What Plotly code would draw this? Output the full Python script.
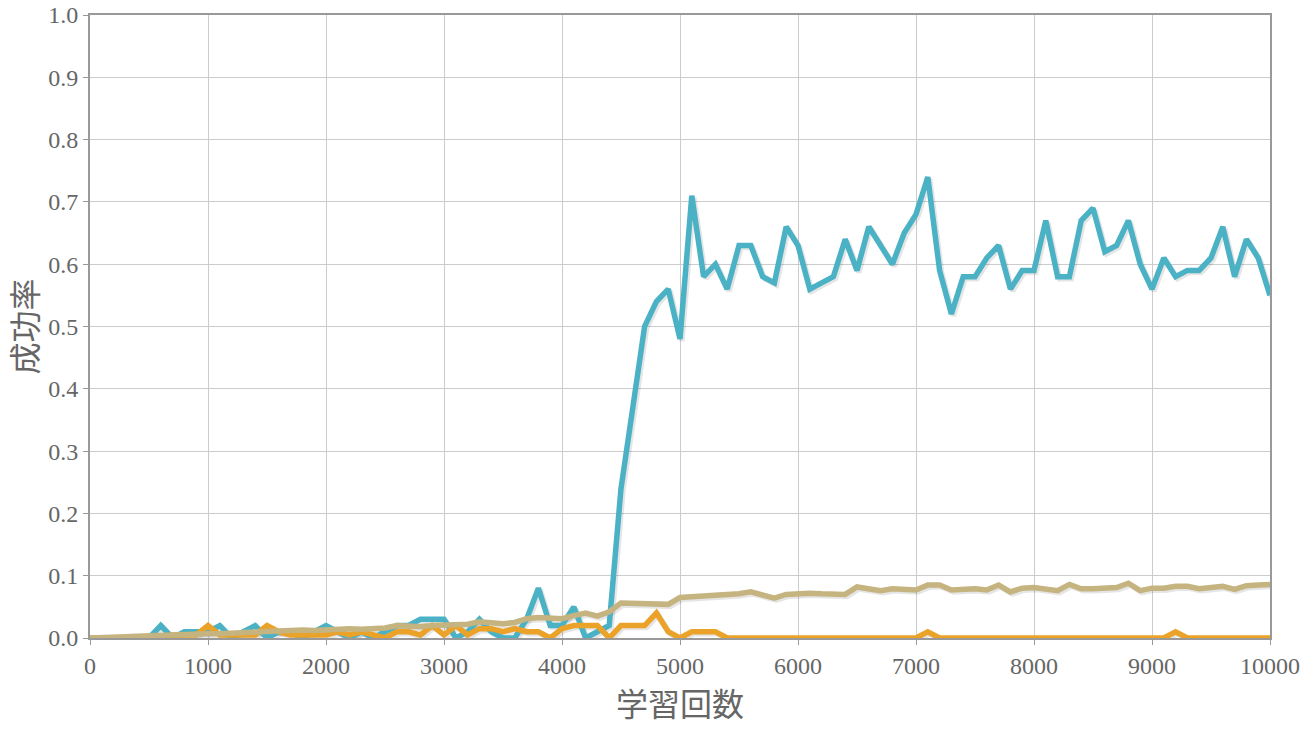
import plotly.graph_objects as go

steps = list(range(0, 10001, 100))

teal = [0, 0, 0, 0, 0, 0, 0.02, 0, 0.01, 0.01,
        0.01, 0.02, 0, 0.01, 0.02, 0, 0.01, 0.01, 0, 0.01,
        0.02, 0.01, 0, 0.01, 0, 0.01, 0.02, 0.02, 0.03, 0.03,
        0.03, 0, 0.01, 0.03, 0.01, 0, 0, 0.03, 0.08, 0.02,
        0.02, 0.05, 0, 0.01, 0.02, 0.24, 0.37, 0.50, 0.54, 0.56,
        0.48, 0.71, 0.58, 0.60, 0.56, 0.63, 0.63, 0.58, 0.57, 0.66,
        0.63, 0.56, 0.57, 0.58, 0.64, 0.59, 0.66, 0.63, 0.60, 0.65,
        0.68, 0.74, 0.59, 0.52, 0.58, 0.58, 0.61, 0.63, 0.56, 0.59,
        0.59, 0.67, 0.58, 0.58, 0.67, 0.69, 0.62, 0.63, 0.67, 0.60,
        0.56, 0.61, 0.58, 0.59, 0.59, 0.61, 0.66, 0.58, 0.64, 0.61,
        0.55]

orange = [0, 0, 0, 0, 0, 0, 0, 0.005, 0.005, 0.005,
          0.02, 0.005, 0.005, 0.005, 0.005, 0.02, 0.01, 0.005, 0.005, 0.005,
          0.005, 0.01, 0.005, 0.01, 0.005, 0, 0.01, 0.01, 0.005, 0.02,
          0.005, 0.02, 0.005, 0.015, 0.015, 0.01, 0.015, 0.01, 0.01, 0,
          0.015, 0.02, 0.02, 0.02, 0, 0.02, 0.02, 0.02, 0.04, 0.01,
          0, 0.01, 0.01, 0.01, 0, 0, 0, 0, 0, 0,
          0, 0, 0, 0, 0, 0, 0, 0, 0, 0,
          0, 0.01, 0, 0, 0, 0, 0, 0, 0, 0,
          0, 0, 0, 0, 0, 0, 0, 0, 0, 0,
          0, 0, 0.01, 0, 0, 0, 0, 0, 0, 0,
          0]

tan = [0, 0, 0.001, 0.002, 0.003, 0.004, 0.005, 0.005, 0.006, 0.006,
       0.007, 0.007, 0.008, 0.008, 0.01, 0.01, 0.011, 0.012, 0.013, 0.012,
       0.013, 0.015, 0.015, 0.014, 0.015, 0.016, 0.02, 0.019, 0.018, 0.02,
       0.02, 0.021, 0.022, 0.026, 0.024, 0.023, 0.025, 0.031, 0.033, 0.033,
       0.031, 0.036, 0.04, 0.035, 0.042, 0.056, 0.055, 0.055, 0.054, 0.054,
       0.065, 0.066, 0.069, 0.07, 0.071, 0.071, 0.074, 0.068, 0.064, 0.07,
       0.072, 0.072, 0.071, 0.07, 0.07, 0.082, 0.08, 0.076, 0.079, 0.078,
       0.077, 0.085, 0.085, 0.077, 0.078, 0.079, 0.077, 0.085, 0.074, 0.08,
       0.081, 0.079, 0.076, 0.086, 0.079, 0.079, 0.08, 0.081, 0.088, 0.076,
       0.08, 0.08, 0.083, 0.083, 0.079, 0.081, 0.083, 0.078, 0.084, 0.085,
       0.086]

series = [teal, orange, tan]
colors = ["#4bb2c5", "#eaa228", "#c5b47f"]

W, H = 1303, 735
L, R, T, B = 90, 33, 15, 97
pw, ph = W - L - R, H - T - B
XMAX, YMAX = 10000, 1.0
# shadow offset (pixels) expressed in axis units
dx = 2.0 * XMAX / pw
dy = 2.0 * YMAX / ph

fig = go.Figure()
# shadows on the hidden base axes, drawn underneath
for s in series:
    fig.add_trace(go.Scatter(x=steps, y=s, mode="lines", xaxis="x", yaxis="y",
                             line=dict(color="rgba(0,0,0,0.10)", width=5.5),
                             hoverinfo="skip", showlegend=False))
# main series on the visible overlay axes
for s, c in zip(series, colors):
    fig.add_trace(go.Scatter(x=steps, y=s, mode="lines", xaxis="x2", yaxis="y2",
                             line=dict(color=c, width=5.5), showlegend=False))

tickfont = dict(family="Liberation Serif, Times New Roman, serif", size=24, color="#666666")
titlefont = dict(family="Noto Sans CJK JP, sans-serif", size=32, color="#666666")

fig.update_layout(
    width=W, height=H,
    margin=dict(l=L, r=R, t=T, b=B, autoexpand=False),
    paper_bgcolor="white", plot_bgcolor="white",
    xaxis=dict(range=[-dx, XMAX - dx], visible=False, showgrid=False, zeroline=False),
    yaxis=dict(range=[dy, YMAX + dy], visible=False, showgrid=False, zeroline=False),
    xaxis2=dict(range=[0, XMAX], overlaying="x", side="bottom",
                tickvals=list(range(0, 10001, 1000)), tickformat="d",
                showgrid=True, gridcolor="#cccccc", gridwidth=1,
                showline=True, linecolor="#999999", linewidth=2, mirror=True,
                ticks="outside", ticklen=5, tickcolor="#999999",
                tickfont=tickfont, zeroline=False, automargin=False,
                ticklabeloverflow="allow",
                title=dict(text="学習回数", font=titlefont, standoff=8)),
    yaxis2=dict(range=[0, YMAX], overlaying="y", side="left",
                tickvals=[i / 10 for i in range(11)], tickformat=".1f",
                showgrid=True, gridcolor="#cccccc", gridwidth=1,
                showline=True, linecolor="#999999", linewidth=2, mirror=True,
                ticks="outside", ticklen=5, tickcolor="#999999",
                tickfont=tickfont, zeroline=False, automargin=False,
                ticklabeloverflow="allow",
                title=dict(text="成功率", font=titlefont, standoff=8)),
)

fig.write_html("out.html",
               config={"displayModeBar": False},
               post_script="document.body.style.margin='0';document.body.style.overflow='hidden';")
